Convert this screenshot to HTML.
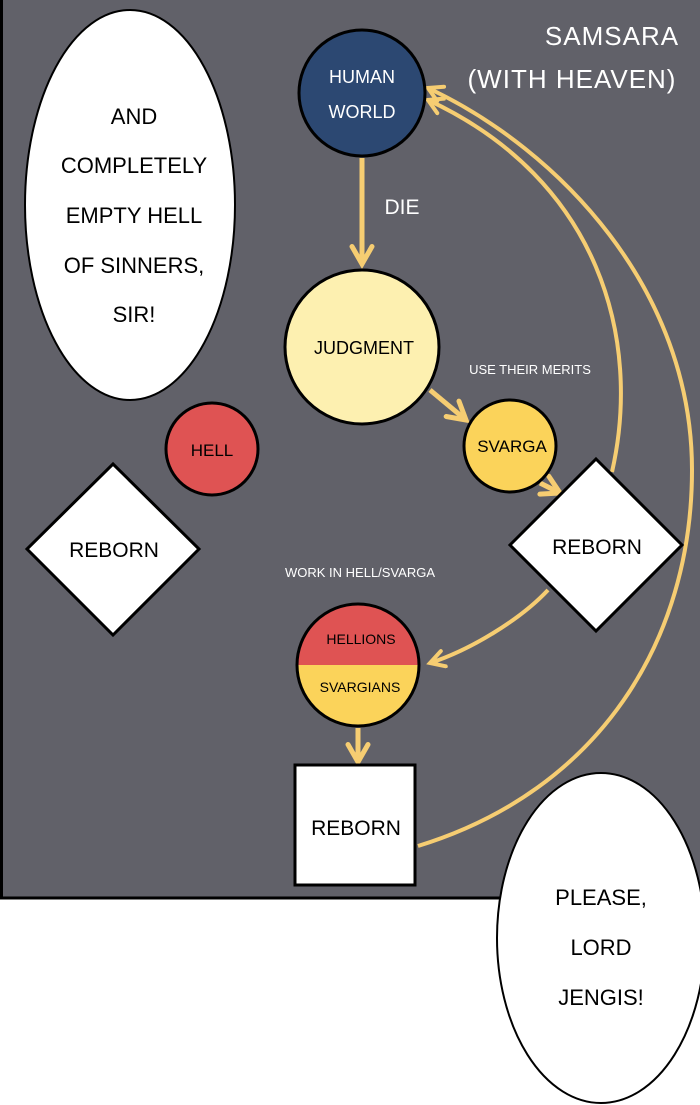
<!DOCTYPE html>
<html><head><meta charset="utf-8"><style>
body{margin:0;width:700px;height:1105px;background:#fff;overflow:hidden}
svg{display:block}
text{font-family:"Liberation Sans",sans-serif;text-anchor:middle}
</style></head><body>
<svg width="700" height="1105" viewBox="0 0 700 1105">
<defs>
<marker id="ah" viewBox="0 0 10 10" refX="8" refY="5" markerWidth="5" markerHeight="5" orient="auto-start-reverse">
<path d="M1,1 L8,5 L1,9" fill="none" stroke="#f6cd72" stroke-width="2" stroke-linecap="round"/>
</marker>
<clipPath id="hc"><circle cx="358" cy="665" r="61"/></clipPath>
</defs>
<rect x="0" y="0" width="700" height="898" fill="#616169"/>
<line x1="0" y1="898" x2="700" y2="898" stroke="#000" stroke-width="3"/>
<line x1="1.5" y1="0" x2="1.5" y2="898" stroke="#000" stroke-width="3"/>

<text x="612" y="45" fill="#fff" font-size="26" letter-spacing="1">SAMSARA</text>
<text x="572" y="88" fill="#fff" font-size="26" letter-spacing="1">(WITH HEAVEN)</text>

<!-- arcs -->
<path d="M612,472 C642,340 600,180 428,100" fill="none" stroke="#f6cd72" stroke-width="4" marker-end="url(#ah)"/>
<path d="M418,846 C600,790 692,640 692,470 C692,290 560,150 428,88" fill="none" stroke="#f6cd72" stroke-width="4" marker-end="url(#ah)"/>
<path d="M548,590 C520,620 470,650 430,663" fill="none" stroke="#f6cd72" stroke-width="4" marker-end="url(#ah)"/>

<!-- straight arrows -->
<line x1="362" y1="158" x2="362" y2="264" stroke="#f6cd72" stroke-width="5" marker-end="url(#ah)"/>
<line x1="430" y1="390" x2="466" y2="420" stroke="#f6cd72" stroke-width="5" marker-end="url(#ah)"/>
<line x1="540" y1="483" x2="560" y2="493" stroke="#f6cd72" stroke-width="5" marker-end="url(#ah)"/>
<line x1="358" y1="728" x2="358" y2="762" stroke="#f6cd72" stroke-width="5" marker-end="url(#ah)"/>

<text x="402" y="214" fill="#fff" font-size="21">DIE</text>
<text x="530" y="374" fill="#fff" font-size="13">USE THEIR MERITS</text>
<text x="360" y="577" fill="#fff" font-size="13">WORK IN HELL/SVARGA</text>

<circle cx="362" cy="93" r="63" fill="#2c4872" stroke="#000" stroke-width="3"/>
<text x="362" y="83" fill="#fff" font-size="18">HUMAN</text>
<text x="362" y="118" fill="#fff" font-size="18">WORLD</text>

<circle cx="362" cy="347" r="77" fill="#fdf0b0" stroke="#000" stroke-width="3"/>
<text x="364" y="354" fill="#000" font-size="18">JUDGMENT</text>

<circle cx="510" cy="446" r="46" fill="#fbd35a" stroke="#000" stroke-width="3"/>
<text x="512" y="452" fill="#000" font-size="17">SVARGA</text>

<circle cx="212" cy="449" r="46" fill="#df5353" stroke="#000" stroke-width="3"/>
<text x="212" y="456" fill="#000" font-size="17">HELL</text>

<polygon points="596,459 682,545 596,631 510,545" fill="#fff" stroke="#000" stroke-width="3"/>
<text x="597" y="554" fill="#000" font-size="21">REBORN</text>

<polygon points="113,464 199,549 113,635 27,549" fill="#fff" stroke="#000" stroke-width="3"/>
<text x="114" y="557" fill="#000" font-size="21">REBORN</text>

<g clip-path="url(#hc)">
<rect x="290" y="600" width="140" height="65" fill="#df5353"/>
<rect x="290" y="665" width="140" height="70" fill="#fbd35a"/>
</g>
<circle cx="358" cy="665" r="61" fill="none" stroke="#000" stroke-width="3"/>
<text x="361" y="644" fill="#000" font-size="14">HELLIONS</text>
<text x="360" y="692" fill="#000" font-size="14">SVARGIANS</text>

<rect x="295" y="765" width="120" height="120" fill="#fff" stroke="#000" stroke-width="3"/>
<text x="356" y="835" fill="#000" font-size="21">REBORN</text>

<ellipse cx="130" cy="205" rx="105" ry="195" fill="#fff" stroke="#000" stroke-width="2"/>
<g fill="#000" font-size="22">
<text x="134" y="124">AND</text>
<text x="134" y="173">COMPLETELY</text>
<text x="134" y="223">EMPTY HELL</text>
<text x="134" y="273">OF SINNERS,</text>
<text x="134" y="322">SIR!</text>
</g>

<ellipse cx="601" cy="938" rx="104" ry="165" fill="#fff" stroke="#000" stroke-width="2"/>
<g fill="#000" font-size="22">
<text x="601" y="905">PLEASE,</text>
<text x="601" y="955">LORD</text>
<text x="601" y="1005">JENGIS!</text>
</g>
</svg>
</body></html>
